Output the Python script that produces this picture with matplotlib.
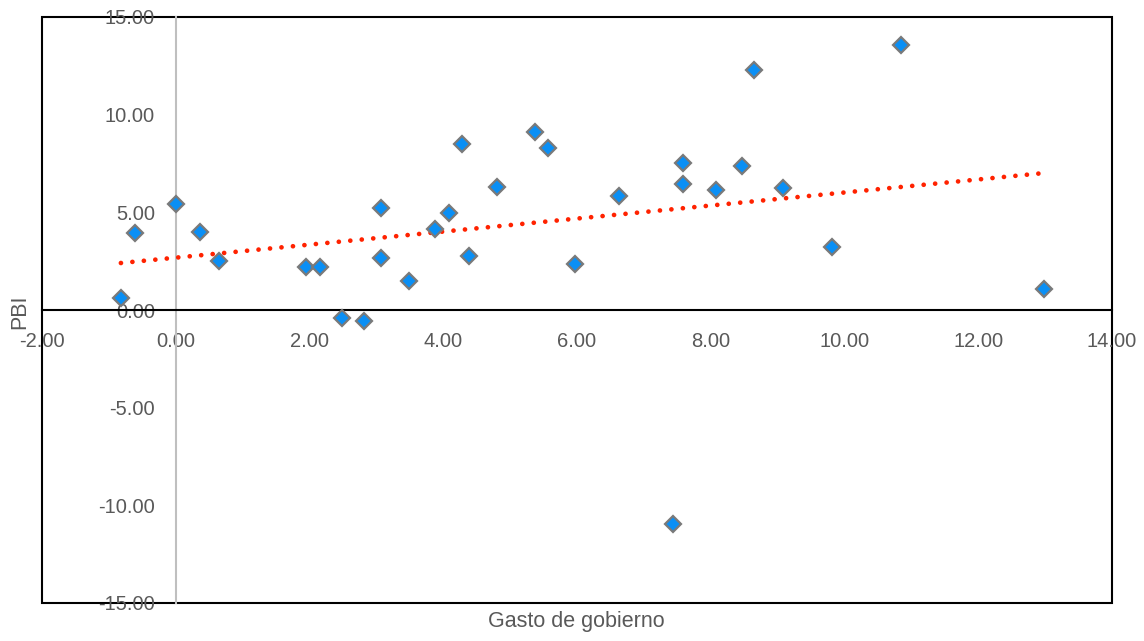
import numpy as np
import matplotlib
matplotlib.use("Agg")
import matplotlib.pyplot as plt
from matplotlib.patches import Rectangle

plt.rcParams['font.family'] = ['Liberation Sans', 'DejaVu Sans']

# Government spending growth vs GDP growth
gasto = [-0.82, -0.61, 0.00, 0.36, 0.65, 1.95, 2.16, 2.49, 2.82, 3.07, 3.07,
         3.49, 3.88, 4.09, 4.28, 4.39, 4.80, 5.37, 5.57, 5.97, 6.63, 7.59,
         7.59, 7.44, 8.08, 8.47, 8.65, 9.08, 9.81, 10.84, 12.98]
pbi = [0.61, 3.94, 5.43, 3.99, 2.51, 2.20, 2.20, -0.41, -0.56, 5.22, 2.66,
       1.48, 4.15, 4.97, 8.50, 2.76, 6.30, 9.11, 8.29, 2.35, 5.84, 7.53,
       6.45, -10.96, 6.14, 7.37, 12.29, 6.25, 3.23, 13.57, 1.08]

x_ticks = [-2, 0, 2, 4, 6, 8, 10, 12, 14]
y_ticks = [-15, -10, -5, 0, 5, 10, 15]

x_label = "Gasto de gobierno"
y_label = "PBI"

fig = plt.figure(figsize=(11.44, 6.41), dpi=100)
ax = fig.add_axes([42 / 1144, 1 - 603 / 641, (1112 - 42) / 1144, (603 - 17) / 641])
ax.set_xlim(-2, 14)
ax.set_ylim(-15, 15)

text_col = "#595959"

# axes crossing at zero
ax.spines['left'].set_position(('data', 0))
ax.spines['left'].set_color("#bfbfbf")
ax.spines['left'].set_linewidth(1.5)
ax.spines['bottom'].set_position(('data', 0))
ax.spines['bottom'].set_color("black")
ax.spines['bottom'].set_linewidth(1.5)
ax.spines['top'].set_visible(False)
ax.spines['right'].set_visible(False)

# plot area border
ax.add_patch(Rectangle((0, 0), 1, 1, transform=ax.transAxes, fill=False,
                       edgecolor="black", linewidth=1.5, clip_on=False, zorder=1))

ax.set_xticks(x_ticks)
ax.set_yticks(y_ticks)
ax.set_xticklabels([f"{v:.2f}" for v in x_ticks])
ax.set_yticklabels([f"{v:.2f}" for v in y_ticks])
ax.tick_params(axis='both', length=0, labelsize=14.5, labelcolor=text_col)
ax.tick_params(axis='x', pad=16)
ax.tick_params(axis='y', pad=15)

# linear trend
coef = np.polyfit(gasto, pbi, 1)
xs = np.array([min(gasto), max(gasto)])
ax.plot(xs, np.polyval(coef, xs), color="#ff2200", linewidth=3.4,
        linestyle=(0, (0.01, 2.43)), dash_capstyle='round', zorder=3)

ax.plot(gasto, pbi, linestyle='none', marker='D', markersize=8.5,
        markerfacecolor="#0a8ff5", markeredgecolor="#7a7a7a",
        markeredgewidth=1.6, zorder=4, clip_on=False)

fig.text(576 / 1144, 1 - 622 / 641, x_label, ha='center', va='center',
         fontsize=15.5, color=text_col)
fig.text(20 / 1144, 1 - 312 / 641, y_label, ha='center', va='center',
         rotation=90, fontsize=15.5, color=text_col)

fig.savefig("out.png", dpi=100)
